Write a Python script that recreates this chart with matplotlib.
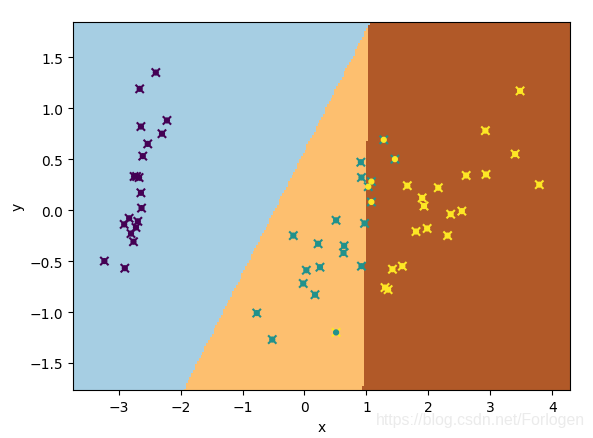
import numpy as np
import matplotlib
matplotlib.use("Agg")
import matplotlib.pyplot as plt

class0_x = [-2.40,-2.66,-2.64,-2.22,-2.30,-2.53,-2.61,-2.75,-2.71,-2.67,-2.64,-2.63,-2.83,-2.91,-2.69,-2.72,-2.80,-2.76,-3.23,-2.90]
class0_y = [1.35,1.19,0.82,0.88,0.75,0.65,0.53,0.33,0.33,0.32,0.17,0.02,-0.08,-0.14,-0.11,-0.17,-0.23,-0.31,-0.50,-0.57]
class1_x = [0.91,0.92,0.51,-0.18,0.22,0.64,0.63,0.97,0.92,0.25,0.03,-0.02,0.17,-0.77,-0.52]
class1_y = [0.47,0.32,-0.10,-0.25,-0.33,-0.35,-0.42,-0.13,-0.55,-0.56,-0.59,-0.72,-0.83,-1.01,-1.27]
class2_x = [3.48,2.92,3.40,2.61,2.93,1.66,2.16,3.79,1.90,1.93,2.54,2.36,1.98,1.80,2.31,1.42,1.58,1.30,1.35]
class2_y = [1.17,0.78,0.55,0.34,0.35,0.24,0.22,0.25,0.12,0.04,-0.01,-0.04,-0.18,-0.21,-0.25,-0.58,-0.55,-0.76,-0.78]
# true class 1 (x marker), predicted class 2 (dot)
miss12_x = [1.28,1.46,1.08,1.03,1.08]
miss12_y = [0.69,0.50,0.28,0.23,0.08]
# true class 2 (x marker), predicted class 1 (dot)
miss21_x = [0.51]
miss21_y = [-1.20]

X = np.array(class0_x + class1_x + class2_x + miss12_x + miss21_x)
Y = np.array(class0_y + class1_y + class2_y + miss12_y + miss21_y)
true_lab = np.array([0]*len(class0_x) + [1]*len(class1_x) + [2]*len(class2_x) + [1]*len(miss12_x) + [2]*len(miss21_x))
pred_lab = np.array([0]*len(class0_x) + [1]*len(class1_x) + [2]*len(class2_x) + [2]*len(miss12_x) + [1]*len(miss21_x))

step = 0.03
x0, x1 = -3.733, 4.281
y0, y1 = -1.768, 1.843
xx, yy = np.meshgrid(np.arange(x0, x1+step, step), np.arange(y0, y1+step, step))
Z = np.where(yy > 1.198*xx + 0.577, 0, np.where(xx < 0.99 + 0.025*yy, 1, 2))

W, H = 593, 439
fig = plt.figure(figsize=(W/100, H/100), dpi=100)
ax = fig.add_axes([73.2/W, 1-391.3/H, (569.7-73.2)/W, (391.3-23.3)/H])
ax.pcolormesh(xx, yy, Z, cmap=plt.cm.Paired, shading='auto')
ax.scatter(X, Y, c=true_lab, marker='x', cmap='viridis', vmin=0, vmax=2, s=36)
ax.scatter(X, Y, c=pred_lab, marker='o', cmap='viridis', vmin=0, vmax=2, s=12)
ax.set_xlim(x0, x1)
ax.set_ylim(y0, y1)
ax.set_xlabel('x')
ax.set_ylabel('y')
fig.text(585/W, 1-421/H, 'https://blog.csdn.net/Forlogen', ha='right', va='center',
         family='Liberation Sans', fontsize=11.4, color='#ebebeb')
fig.savefig('out.png', dpi=100)
